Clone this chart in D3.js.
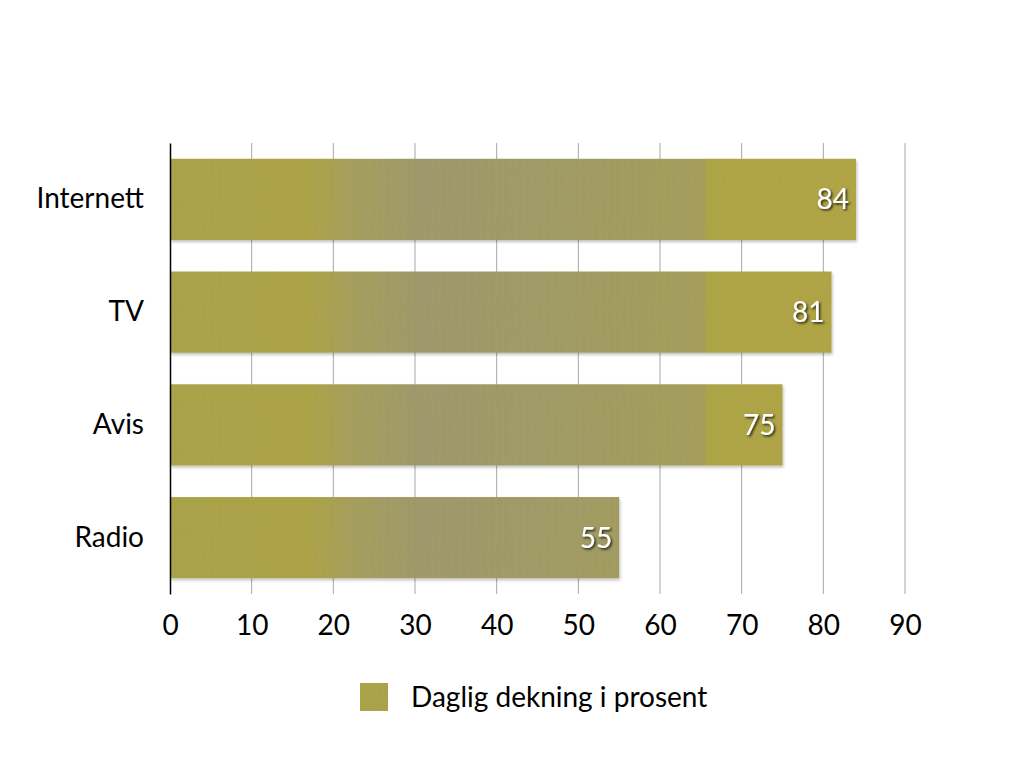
<!DOCTYPE html>
<html>
<head>
<meta charset="utf-8">
<script src="https://cdn.jsdelivr.net/npm/d3@7"></script>
<style>
  body { margin: 0; background: #fff; }
  text { font-family: Lato, "Open Sans", sans-serif; }
</style>
</head>
<body>
<div id="chart"></div>
<script>
// Data
const categories = ['Internett', 'TV', 'Avis', 'Radio'];
const values = [84, 81, 75, 55];
const ticks = [0, 10, 20, 30, 40, 50, 60, 70, 80, 90];
const seriesName = 'Daglig dekning i prosent';

const margin = {top: 143, left: 170};
const width = 735;   // 0..90
const height = 451;
const fontSize = 28;

const svg = d3.select('#chart')
  .append('svg')
  .attr('width', 1024)
  .attr('height', 768);

const defs = svg.append('defs');

// Fill: olive gradient that turns greyish in the middle
// (userSpaceOnUse = local coords of the plot group, so 0..width)
const grad = defs.append('linearGradient')
  .attr('id', 'barFill')
  .attr('gradientUnits', 'userSpaceOnUse')
  .attr('x1', 0).attr('x2', width)
  .attr('y1', 0).attr('y2', 0);
[[0, '#a9a24b'], [0.19, '#aca24a'], [0.254, '#a49d60'], [0.34, '#9d986e'],
 [0.53, '#9f9a68'], [0.728, '#a49d5c'], [0.731, '#ada447'], [1, '#afa446']].forEach(([o, c]) => {
  grad.append('stop').attr('offset', o).attr('stop-color', c);
});

// wood-like streaks
const pat = defs.append('pattern')
  .attr('id', 'streaks')
  .attr('patternUnits', 'userSpaceOnUse')
  .attr('width', 7).attr('height', 82);
pat.append('path')
  .attr('d', 'M2,0 C5,25 5,55 3,82')
  .attr('fill', 'none')
  .attr('stroke', '#bcaa2c')
  .attr('stroke-width', 0.7)
  .attr('opacity', 0.4);

const shadow = defs.append('filter').attr('id', 'barShadow')
  .attr('x', '-5%').attr('y', '-10%').attr('width', '110%').attr('height', '130%');
shadow.append('feDropShadow')
  .attr('dx', 1).attr('dy', 2).attr('stdDeviation', 1.5)
  .attr('flood-color', '#000').attr('flood-opacity', 0.25);

const txtShadow = defs.append('filter').attr('id', 'txtShadow');
txtShadow.append('feDropShadow')
  .attr('dx', 1.5).attr('dy', 1.5).attr('stdDeviation', 1)
  .attr('flood-color', '#000').attr('flood-opacity', 0.8);

const g = svg.append('g')
  .attr('transform', `translate(${margin.left},${margin.top})`);

const x = d3.scaleLinear().domain([0, 90]).range([0, width]);
const y = d3.scaleBand()
  .domain(categories)
  .range([0, height])
  .paddingInner(0.28)
  .paddingOuter(0.14);

// Grid lines
g.append('g')
  .selectAll('line')
  .data(ticks.slice(1))
  .enter()
  .append('line')
  .attr('x1', d => x(d)).attr('x2', d => x(d))
  .attr('y1', 0).attr('y2', height)
  .attr('stroke', '#a8a8a8')
  .attr('stroke-width', 1);

// X axis labels
const xAxis = g.append('g')
  .attr('transform', `translate(0,${height})`)
  .call(d3.axisBottom(x).tickValues(ticks).tickSize(0).tickPadding(21));
xAxis.select('.domain').remove();
xAxis.selectAll('text')
  .attr('font-size', fontSize)
  .attr('fill', '#000')
  .style('font-family', 'Lato, "Open Sans", sans-serif');

// Bars
const bars = g.selectAll('.bar')
  .data(categories)
  .enter()
  .append('g')
  .attr('class', 'bar');

bars.append('rect')
  .attr('x', 0)
  .attr('y', d => y(d))
  .attr('width', (d, i) => x(values[i]))
  .attr('height', y.bandwidth())
  .attr('fill', 'url(#barFill)')
  .attr('filter', 'url(#barShadow)');

bars.append('rect')
  .attr('x', 0)
  .attr('y', d => y(d))
  .attr('width', (d, i) => x(values[i]))
  .attr('height', y.bandwidth())
  .attr('fill', 'url(#streaks)');

// Value labels
bars.append('text')
  .attr('x', (d, i) => x(values[i]) - 7)
  .attr('y', d => y(d) + y.bandwidth() / 2)
  .attr('dy', '0.36em')
  .attr('text-anchor', 'end')
  .attr('font-size', fontSize)
  .attr('fill', '#fff')
  .attr('filter', 'url(#txtShadow)')
  .text((d, i) => values[i]);

// Y axis
const yAxis = g.append('g')
  .call(d3.axisLeft(y).tickSize(0).tickPadding(26));
yAxis.select('.domain')
  .attr('stroke', '#000')
  .attr('stroke-width', 1.5);
yAxis.selectAll('text')
  .attr('font-size', fontSize)
  .attr('fill', '#000')
  .style('font-family', 'Lato, "Open Sans", sans-serif');

// Legend
const legend = svg.append('g').attr('transform', 'translate(360,683)');
legend.append('rect')
  .attr('width', 28).attr('height', 28)
  .attr('fill', 'url(#barFill)');
legend.append('rect')
  .attr('width', 28).attr('height', 28)
  .attr('fill', 'url(#streaks)');
legend.append('text')
  .attr('x', 51).attr('y', 24)
  .attr('font-size', fontSize)
  .attr('fill', '#000')
  .text(seriesName);
</script>
</body>
</html>
